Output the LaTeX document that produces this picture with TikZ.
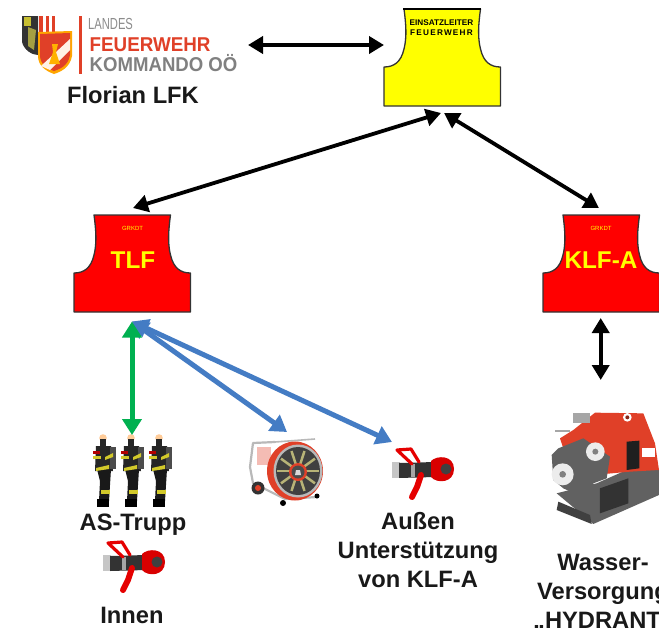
\documentclass[tikz,border=0pt]{standalone}
\usepackage{fontspec}
\setmainfont{Liberation Sans}
\usetikzlibrary{arrows.meta}
\definecolor{vred}{RGB}{255,0,0}
\definecolor{vyel}{RGB}{255,255,0}
\definecolor{tred}{RGB}{224,64,40}
\definecolor{tgrey}{RGB}{128,128,128}
\definecolor{flow}{RGB}{68,124,196}
\definecolor{gflow}{RGB}{0,176,80}
\definecolor{bk}{RGB}{25,25,25}
\tikzset{
 x=1pt,y=-1pt,
 lab/.style={font=\bfseries\fontsize{23.7}{29}\selectfont,text=bk,align=center,inner sep=0},
 twoway/.style={line width=3.8pt,draw=black,{Triangle[length=15pt,width=17pt]}-{Triangle[length=15pt,width=17pt]}},
 blueway/.style={twoway,draw=flow,line width=5pt,{Triangle[length=16pt,width=19pt]}-{Triangle[length=16pt,width=19pt]}},
 greenway/.style={twoway,draw=gflow,line width=5pt,{Triangle[length=16pt,width=19pt]}-{Triangle[length=16pt,width=19pt]}},
 vest/.style={draw=black!80,line width=1.3pt,line join=round},
}
\newcommand{\vestshape}[3]{% x,y,fill
 \begin{scope}[shift={(#1,#2)}]
 \path[vest,fill=#3] (20,0) .. controls (22,15) and (23,28) .. (20,40)
   .. controls (17,53) and (10,58) .. (0,58) -- (0,97) -- (116.5,97) -- (116.5,58)
   .. controls (106.5,58) and (99.5,53) .. (96.5,40) .. controls (93.5,28) and (94.5,15) .. (96.5,0) -- cycle;
 \end{scope}}
\newcommand{\hose}[2]{% x,y centre
 \begin{scope}[shift={(#1,#2)}]
 \fill[gray!45] (-31,-11) rectangle (-23,5);
 \fill[black!80] (-24,-10) -- (12,-11) -- (12,4) -- (-24,5) -- cycle;
 \fill[gray!70] (-12,-9) rectangle (-8,4);
 \fill[red!85!black] (8,-12) .. controls (14,-18) and (31,-18) .. (31,-4) .. controls (31,10) and (14,11) .. (8,4) -- cycle;
 \fill[black!75] (23,-4) circle (5.5);
 \draw[red!90!black,line width=3.2pt,line cap=round,line join=round] (-11,-9) -- (-26,-23) -- (-12,-24) -- (-4,-11);
 \draw[red!90!black,line width=6pt,line cap=round] (-2,2) -- (-6,14) -- (-11,24);
 \end{scope}}
\newcommand{\firefighter}[2]{%
 \begin{scope}[shift={(#1,#2)}]
 \fill[orange!40!white] (-1,-23) circle (3.8);
 \fill[black!85] (-4,-22) rectangle (2,-14);
 \fill[black!85] (-8,-15) -- (7,-15) -- (9,10) -- (-9,10) -- cycle;
 \fill[black!70] (6,-14) rectangle (12,8);
 \fill[black!90] (-7,8) -- (7,8) -- (5,40) -- (-5,40) -- (-4,20) -- cycle;
 \fill[black] (-7,38) rectangle (5,46);
 \fill[yellow!80!black] (-11,-5) rectangle (-3,-2);
 \fill[yellow!80!black] (1,-4) -- (9,-8) -- (9,-4) -- (1,-1) -- cycle;
 \fill[yellow!80!black] (-8,7) -- (5,4) -- (5,8) -- (-8,10) -- cycle;
 \fill[yellow!80!black] (-3,29) rectangle (6,33);
 \fill[red!70!black] (-11,-10) rectangle (-4,-7);
 \end{scope}}
\begin{document}
\begin{tikzpicture}
\useasboundingbox (0,0) rectangle (659,627);
\fill[white] (0,0) rectangle (659,627);

% Logo: shields
\fill[black!80] (22,16) -- (38,16) -- (38,55) .. controls (32,55) and (24,50) .. (22,42) -- cycle;
\fill[yellow!75!black] (24,17) rectangle (31,26);
\fill[yellow!60!black] (28,27) -- (36,30) -- (34,50) -- (28,46) -- cycle;
\fill[tred] (39,16) rectangle (55,32);
\fill[white] (43,16) rectangle (46,32);\fill[white] (49,16) rectangle (52,32);
\fill[orange!70!yellow] (38,32) -- (72,31) -- (72,56) .. controls (70,68) and (60,72) .. (54,74) .. controls (46,71) and (38,66) .. (38,56) -- cycle;
\fill[tred] (40,34) -- (70,33) -- (70,55) .. controls (68,66) and (60,69) .. (54,71) .. controls (47,69) and (40,64) .. (40,55) -- cycle;
\fill[white!90!orange] (41,66) -- (70,39) -- (70,50) -- (50,70) -- cycle;
\fill[orange!60!yellow] (52,44) -- (58,44) -- (56,52) -- (60,64) -- (49,64) -- (53,52) -- cycle;
\fill[tred] (78.5,16) rectangle (82,74);
\node[anchor=west,inner sep=0,text=gray!90,font=\fontsize{16}{16}\selectfont,xscale=.7] (landes) at (88,24) {LANDES};
\node[anchor=west,inner sep=0,text=tred,font=\bfseries\fontsize{20}{20}\selectfont,xscale=.94] (feuerwehr) at (89.5,44.5) {FEUERWEHR};
\node[anchor=west,inner sep=0,text=tgrey,font=\bfseries\fontsize{20}{20}\selectfont,xscale=.93] (kommando) at (89.5,63.5) {KOMMANDO OÖ};
\node[lab] (florian) at (133,95) {Florian LFK};

% Vests
\vestshape{384}{9}{vyel}
\draw[black,line width=2pt] (403,9) -- (480.5,9);
\node[inner sep=0,font=\bfseries\fontsize{8.2}{9.5}\selectfont,align=center,text=black] (einsatz) at (441.5,27.5) {EINSATZLEITER\\{\addfontfeatures{LetterSpace=15}FEUERWEHR}};
\coordinate (elL) at (384,45);
\coordinate (elA) at (441,113);
\coordinate (elB) at (444,113);

\vestshape{74}{215}{vred}
\node[inner sep=0,font=\fontsize{6}{7}\selectfont,text=vyel] (gkt) at (132.5,228) {GRKDT};
\node[inner sep=0,font=\bfseries\fontsize{24.3}{26}\selectfont,text=vyel] (tlf) at (133,260) {TLF};
\coordinate (tlfT) at (133,208);
\coordinate (tlfB) at (132,321.5);

\vestshape{543}{215}{vred}
\node[inner sep=0,font=\fontsize{6}{7}\selectfont,text=vyel] (gkk) at (601,228) {GRKDT};
\node[inner sep=0,font=\bfseries\fontsize{24.3}{26}\selectfont,text=vyel] (klf) at (601,260) {KLF-A};
\coordinate (klfT) at (599,208);
\coordinate (klfB) at (600.7,318);

% Pictures
\firefighter{104}{461}\firefighter{132}{461}\firefighter{160}{461}
\coordinate (trupp) at (132,435);
\node[lab] (as) at (133,524.5) {AS-Trupp};
\hose{134}{566}
\node[lab] (innen) at (132,615) {Innen};

% Blower
\begin{scope}[shift={(295,471)}]
 \draw[gray!55,line width=2.2pt,line join=round] (-20,-29) -- (-42,-28) -- (-45,-4) -- (-42,12) -- (-10,28) -- (22,26);
 \draw[gray!55,line width=1.6pt] (-20,-29) -- (20,-32);
 \fill[tred!35!white] (-38,-24) rectangle (-24,-6);
 \fill[black!80] (-37,17) circle (6.5);\fill[tred] (-37,17) circle (3);
 \fill[black] (-12,32) circle (3);\fill[black] (22,25) circle (2.5);
 \fill[tred] (0,0) ellipse (28 and 29.5);
 \fill[gray!55] (3,0) ellipse (24.5 and 26.5);
 \fill[black!75] (3,0) ellipse (22 and 24);
 \foreach \a in {0,36,...,324}{\draw[yellow!35!gray,line width=2.5pt] (3,0) -- ++(\a:21);}
 \fill[tred] (3,1) circle (9);\fill[black!70] (3,1) circle (6.5);
 \fill[gray!30] (1,-1) -- (5,-1) -- (6,4) -- (0,4) -- cycle;
\end{scope}
\coordinate (blower) at (287,432);

\hose{423}{473}
\coordinate (outer) at (392,442);
\node[lab] (aussen) at (418,550) {Außen\\Unterstützung\\von KLF-A};

% Pump (coordinates in thirds of a pixel)
\begin{scope}[shift={(530,400)},x=.3333pt,y=-.3333pt]
 \fill[black!62] (80,280) -- (190,372) -- (387,285) -- (387,210) -- (290,210) -- (200,250) -- cycle;
 \fill[black!75] (85,305) -- (180,345) -- (185,372) -- (80,330) -- cycle;
 \fill[black!80] (210,265) -- (295,235) -- (295,310) -- (210,340) -- cycle;
 \fill[tred] (90,115) -- (130,90) -- (195,38) -- (340,40) -- (375,130) -- (387,210) -- (300,215) -- (190,225) -- (160,120) -- (100,145) -- cycle;
 \fill[black!88] (290,125) -- (328,122) -- (328,205) -- (290,210) -- cycle;
 \fill[white] (337,145) rectangle (375,170);
 \fill[white] (292,52) circle (13);
 \fill[tred!60!black] (292,52) circle (6);
 \fill[gray!70] (130,40) rectangle (180,70);
 \fill[black!62] (85,145) -- (160,115) -- (240,170) -- (230,235) -- (190,250) -- (175,300) -- (100,265) -- (70,240) -- (65,165) -- cycle;
 \fill[gray!15] (196,155) circle (28);
 \fill[gray!15] (98,223) circle (33);
 \fill[black!50] (196,155) circle (9);\fill[black!50] (98,223) circle (10);
 \draw[gray!70,line width=2pt] (75,92) -- (120,92);
\end{scope}
\coordinate (pumpT) at (600.7,380);
\node[lab,text width=150pt] (wasser) at (603,593) {Wasser-\\Versorgung\\„HYDRANT“};

% Logo anchor
\coordinate (logoR) at (248,45);

% Connectors
\draw[twoway] (logoR) -- (elL);
\draw[twoway] (elA) -- (tlfT);
\draw[twoway] (elB) -- (klfT);
\draw[twoway] (klfB) -- (pumpT);
\draw[blueway] (tlfB) -- (outer);
\draw[blueway] (tlfB) -- (blower);
\draw[greenway] (tlfB) -- (trupp);
\end{tikzpicture}
\end{document}
